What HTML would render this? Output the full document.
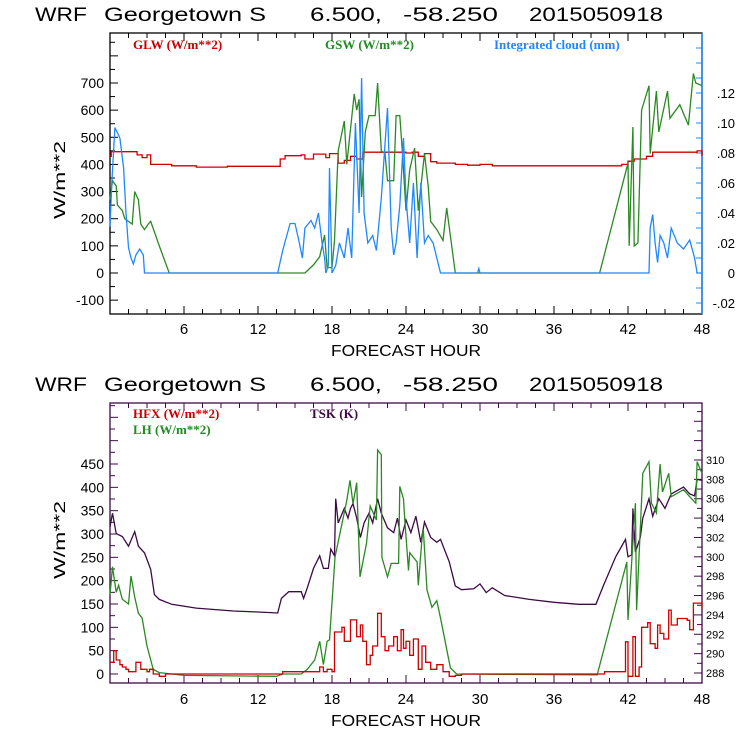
<!DOCTYPE html>
<html><head><meta charset="utf-8"><style>
body{margin:0;background:#fff;width:740px;height:740px;overflow:hidden}
svg{display:block}
.t{font-family:"Liberation Mono",monospace;fill:#000}
.ti{font-family:"Liberation Sans",sans-serif;fill:#000;font-size:19px}
.lg{font-family:"Liberation Serif",serif;font-weight:bold;font-size:13px}
</style></head><body>
<svg id="c" width="740" height="740" viewBox="0 0 740 740">
<g>
<text class="ti" x="35" y="21" textLength="52" lengthAdjust="spacingAndGlyphs">WRF</text>
<text class="ti" x="104" y="21" textLength="162" lengthAdjust="spacingAndGlyphs">Georgetown S</text>
<text class="ti" x="310" y="21" textLength="72" lengthAdjust="spacingAndGlyphs">6.500,</text>
<text class="ti" x="403" y="21" textLength="95" lengthAdjust="spacingAndGlyphs">-58.250</text>
<text class="ti" x="529" y="21" textLength="134" lengthAdjust="spacingAndGlyphs">2015050918</text>
</g>
<g>
<text class="ti" x="35" y="391" textLength="52" lengthAdjust="spacingAndGlyphs">WRF</text>
<text class="ti" x="104" y="391" textLength="162" lengthAdjust="spacingAndGlyphs">Georgetown S</text>
<text class="ti" x="310" y="391" textLength="72" lengthAdjust="spacingAndGlyphs">6.500,</text>
<text class="ti" x="403" y="391" textLength="95" lengthAdjust="spacingAndGlyphs">-58.250</text>
<text class="ti" x="529" y="391" textLength="134" lengthAdjust="spacingAndGlyphs">2015050918</text>
</g>
<text class="lg" x="133" y="49" fill="#cc0000">GLW (W/m**2)</text>
<text class="lg" x="325" y="49" fill="#228b22">GSW (W/m**2)</text>
<text class="lg" x="494" y="49" fill="#1e88ff">Integrated cloud (mm)</text>
<text class="lg" x="133" y="418" fill="#cc0000">HFX (W/m**2)</text>
<text class="lg" x="133" y="434" fill="#228b22">LH  (W/m**2)</text>
<text class="lg" x="310" y="418" fill="#3d0a45">TSK (K)</text>
<text class="ti" x="406" y="356" text-anchor="middle" style="font-size:16px" textLength="150" lengthAdjust="spacingAndGlyphs">FORECAST HOUR</text>
<text class="ti" x="406" y="726" text-anchor="middle" style="font-size:16px" textLength="150" lengthAdjust="spacingAndGlyphs">FORECAST HOUR</text>
<text class="ti" text-anchor="middle" style="font-size:16px" textLength="78" lengthAdjust="spacingAndGlyphs" transform="translate(65,180) rotate(-90)">W/m**2</text>
<text class="ti" text-anchor="middle" style="font-size:16px" textLength="78" lengthAdjust="spacingAndGlyphs" transform="translate(65,540) rotate(-90)">W/m**2</text>
</svg>
<script>
// ---- data ----
const glwT=[0,0.1,2.2,2.6,3,3.3,5,7,9.5,13.6,13.8,14.2,15.5,15.8,16.5,17.5,17.8,18.5,19,19.5,20,20.5,24,24.5,25,25.5,26,26.5,28,29,30,31,41,41.5,42,42.5,43.5,44,47.6,48];
const glwV=[430,447,435,425,435,400,395,390,393,393,420,432,435,420,438,425,440,405,415,430,420,445,442,445,430,440,410,405,400,397,400,395,395,400,412,420,430,445,450,432];
const gswT=[0,0.2,0.5,0.6,1,1.2,1.8,2,2.3,2.5,2.8,3.1,3.3,4,4.8,15.8,16.5,17,17.4,17.6,18,18.2,18.5,19,19.2,19.5,19.8,20,20.2,20.4,20.7,21,21.5,21.7,22,22.3,22.5,23,23.2,23.5,23.7,24,24.3,24.7,25,25.5,25.8,26,26.5,27,27.3,28,39.7,42,42.1,42.4,42.5,42.8,43.1,43.7,43.8,44.3,44.5,45.2,45.4,46.2,46.9,47.3,47.5,48];
const gswV=[270,340,320,250,230,200,180,300,270,180,160,180,190,100,0,0,30,60,140,20,20,120,450,560,400,530,660,600,640,280,520,580,580,700,450,440,340,340,580,580,450,230,380,460,230,440,320,190,160,120,240,0,0,405,100,538,100,110,600,690,440,670,520,670,570,620,545,735,700,690];
const cldT=[0,0.15,0.4,0.8,1.1,1.3,1.5,1.7,1.9,2.1,2.4,2.7,2.8,13.6,14,14.6,15,15.3,15.6,15.8,16.3,16.6,16.9,17.2,17.4,17.5,17.7,17.8,18,18.3,18.6,19,19.3,19.6,19.9,20.2,20.4,20.6,20.9,21.3,21.6,22,22.5,22.8,23,23.2,23.5,23.8,24,24.3,24.6,24.9,25.2,25.5,25.8,26.2,26.8,29.8,29.9,30,43.7,43.8,44,44.2,44.4,44.6,44.9,45.2,45.5,46,46.5,47,47.4,47.6,48];
const cldV=[0.031,0.06,0.097,0.09,0.07,0.04,0.017,0.01,0.006,0.012,0.016,0.012,0,0,0.015,0.033,0.033,0.022,0.01,0.03,0.035,0.03,0.04,0.02,0.01,0,0.005,0.07,0,0.005,0.02,0.01,0.03,0.01,0.1,0.04,0.13,0.04,0.02,0.025,0.015,0.05,0.11,0.03,0.012,0.02,0.045,0.09,0.05,0.02,0.06,0.01,0.06,0.02,0.025,0.02,0,0,0.003,0,0,0.03,0.039,0.02,0.007,0.025,0.02,0.01,0.03,0.02,0.016,0.022,0.01,0,0];
const hfxT=[0,0.3,0.5,0.8,1,1.3,1.5,2,2.1,2.5,3,3.2,3.5,4,4.5,13.5,14,16,17,17.3,17.6,18,18.2,18.8,19,19.5,20,20.3,20.5,20.8,21.1,21.3,21.7,22,22.3,22.6,23,23.3,23.6,23.8,24,24.3,24.6,25,25.3,25.6,26,26.5,27,27.5,28,28.5,39.7,40.1,41.8,42,42.3,42.4,42.6,42.9,43.1,43.6,43.8,44.2,44.4,44.6,44.9,45.3,45.5,46,46.8,47,47.3,48];
const hfxV=[25,50,30,20,15,10,5,5,25,10,5,10,0,-5,0,0,5,5,15,5,10,5,90,100,70,116,80,105,70,20,40,60,130,80,50,60,80,50,95,55,70,40,75,10,60,25,10,20,5,-5,-3,0,0,5,69,-5,-5,80,-5,15,100,110,65,55,105,87,75,137,105,119,115,95,152,140];
const lhT=[0,0.2,0.5,0.7,1,1.5,1.7,2,2.3,2.6,3,3.5,4,5,6,13.5,14,15.5,16,16.6,17,17.3,17.6,17.8,18.24,19.2,19.46,19.7,20,20.27,20.8,21.1,21.6,21.7,22,22.05,22.5,22.8,23.4,23.5,23.8,23.9,24.2,24.3,24.9,25,25.3,25.4,25.7,26.1,26.5,26.8,27.6,28.1,39.5,41.9,42,42.6,42.7,43.2,43.7,43.9,44.3,44.6,44.8,45.3,45.5,46.5,47,47.5,47.6,48];
const lhV=[170,230,175,190,160,150,210,165,130,120,60,10,3,0,-3,-5,0,0,10,30,70,20,70,73,250,372,415,365,410,208,280,360,330,480,470,250,208,237,237,402,375,330,222,260,240,190,290,310,180,143,157,120,13,0,-2,240,116,366,137,430,455,366,345,450,390,430,380,395,380,366,455,430];
const tskT=[0,0.2,0.5,1,1.5,2,2.3,2.8,3.3,3.6,4,5,7,10,12,13.6,13.9,14.5,15.5,15.7,16,16.5,17,17.3,17.7,17.9,18.2,18.3,18.5,19,19.3,19.5,19.7,20,20.3,20.6,21,21.3,21.7,22,22.5,23,23.3,23.6,24,24.4,24.8,25.2,25.5,26,26.5,26.8,27.5,28,28.5,29.5,30,30.5,31,32,34,36,38,39.4,40,41,41.8,42,42.3,42.4,42.6,43,43.2,43.7,44,44.5,45,45.5,46.5,47,47.4,47.6,48];
const tskV=[303.1,304.5,302.4,302.1,301.1,302.6,301.1,300.4,298.7,296.1,295.6,295.1,294.7,294.4,294.3,294.2,295.7,296.4,296.4,295.7,296.8,298.8,300.1,298.8,298.8,300.8,300.1,306,303.5,305,304,305,305.5,304,302,303.5,304.5,303.5,306,304.5,303,302.5,304,301.8,303.8,302.5,304.2,301.5,303.6,302,301.5,301.8,299.5,297,296.6,296.7,297.2,296.3,296.8,296,295.6,295.3,295.1,295.1,297,300,301.8,300,300.2,305,300.5,302,304,306,304.2,306,305,306.5,307.2,306.5,306.3,308,307.9];
const topLeftTicks=[-100,0,100,200,300,400,500,600,700];
const topRightTicks=[-0.02,0,0.02,0.04,0.06,0.08,0.10,0.12];
const topRightLabels=["-.02","0",".02",".04",".06",".08",".10",".12"];
const botLeftTicks=[0,50,100,150,200,250,300,350,400,450];
const botRightTicks=[288,290,292,294,296,298,300,302,304,306,308,310];
const xTicks=[6,12,18,24,30,36,42,48];

// ---- axes ----
const NS="http://www.w3.org/2000/svg";
const svg=document.getElementById('c');
const X0=110,X1=702;
const xs=h=>X0+(X1-X0)*h/48;
const yTop=v=>273-v*0.27143;
const yCld=v=>273-v*1500;
const yBot=v=>674-v*0.46667;
const yTsk=v=>673-(v-288)*9.682;
function mk(tag,attrs){const e=document.createElementNS(NS,tag);for(const k in attrs)e.setAttribute(k,attrs[k]);svg.appendChild(e);return e;}
function line(T,V,ys,col,step,name){
  let pts=[];
  for(let i=0;i<T.length;i++){
    if(step&&i>0)pts.push(xs(T[i]).toFixed(1)+','+ys(V[i-1]).toFixed(1));
    pts.push(xs(T[i]).toFixed(1)+','+ys(V[i]).toFixed(1));
  }
  const p=mk('polyline',{points:pts.join(' '),fill:'none',stroke:col,'stroke-width':1.3});
  
  
}
function frame(top,bot,col,name){
  const r=mk('rect',{x:X0,y:top,width:X1-X0,height:bot-top,fill:'none',stroke:col,'stroke-width':1.3});
  
  
  for(let h=0;h<=48;h+=1.5){
    const big=h%6===0, L=big?8:5;
    mk('line',{x1:xs(h),x2:xs(h),y1:bot,y2:bot-L,stroke:col});
    mk('line',{x1:xs(h),x2:xs(h),y1:top,y2:top+L,stroke:col});
  }
}
function lab(x,y,txt,size,anchor){
  const t=mk('text',{x:x,y:y,'text-anchor':anchor,class:'ti'});
  t.style.fontSize=size+'px';
  t.textContent=txt;
  return t;
}
// top chart
frame(33,314,'#000','top-plot-frame');
mk('line',{x1:X1,x2:X1,y1:33,y2:314,stroke:'#1e88ff','stroke-width':1.5});
for(let v=-150;v<=880;v+=50){const y=yTop(v);if(y<34||y>313)continue;mk('line',{x1:X0,x2:X0+(v%100===0?8:5),y1:y,y2:y,stroke:'#000'});}
topLeftTicks.forEach(v=>{const t=lab(104,yTop(v)+5,String(v),14,'end');

});
for(let v=-0.02;v<=0.16;v+=0.01){const y=yCld(v);if(y<34||y>313)continue;mk('line',{x1:X1,x2:X1-6,y1:y,y2:y,stroke:'#1e88ff'});}
topRightTicks.forEach((v,i)=>{const t=lab(735,yCld(v)+5,topRightLabels[i],13,'end');

});
xTicks.forEach(h=>{const t=lab(xs(h),334,String(h),15,'middle');

});
line(glwT,glwV,yTop,'#cc0000',true,'glw-line');
line(gswT,gswV,yTop,'#2a8a22',false,'gsw-line');
line(cldT,cldV,yCld,'#1e88ff',false,'cloud-line');
// bottom chart
frame(403,683,'#3d0a45','bottom-plot-frame');
for(let v=-25;v<=600;v+=25){const y=yBot(v);if(y<404||y>682)continue;mk('line',{x1:X0,x2:X0+(v%50===0?8:5),y1:y,y2:y,stroke:'#3d0a45'});}
botLeftTicks.forEach(v=>{const t=lab(104,yBot(v)+5,String(v),14,'end');

});
for(let k=287;k<=316;k++){const y=yTsk(k);if(y<404||y>682)continue;mk('line',{x1:X1,x2:X1-(k%2===0?8:5),y1:y,y2:y,stroke:'#3d0a45'});}
botRightTicks.forEach(v=>{const t=lab(706,yTsk(v)+4,String(v),11,'start');

});
xTicks.forEach(h=>{const t=lab(xs(h),704,String(h),15,'middle');

});
line(tskT,tskV,yTsk,'#3d0a45',false,'tsk-line');
line(lhT,lhV,yBot,'#2a8a22',false,'lh-line');
line(hfxT,hfxV,yBot,'#cc0000',true,'hfx-line');
</script>
</body></html>
